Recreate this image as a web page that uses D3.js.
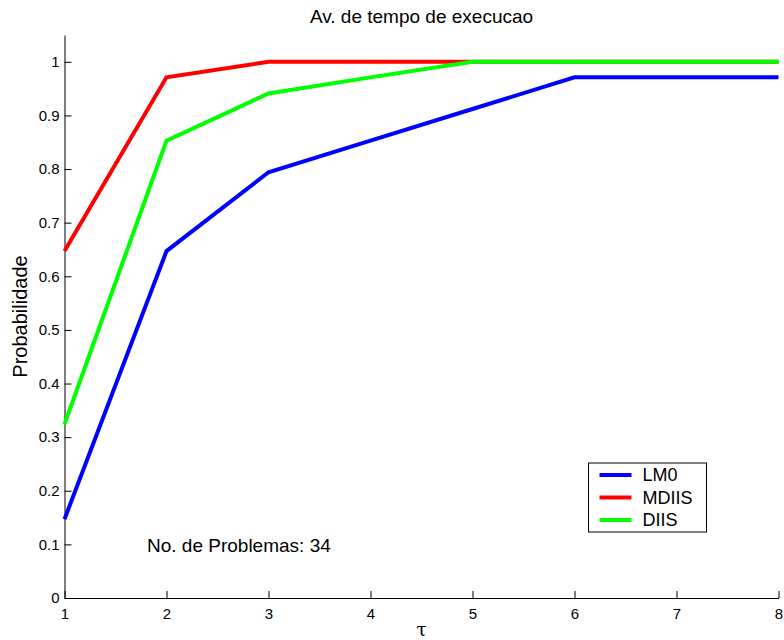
<!DOCTYPE html>
<html>
<head>
<meta charset="utf-8">
<script src="https://cdn.jsdelivr.net/npm/d3@7"></script>
<style>
  body { margin: 0; background: #fff; }
  text { font-family: "Liberation Sans", Arial, sans-serif; fill: #000; }
  .axis path, .axis line { stroke: #000; }
  .axis text { font-size: 15px; font-family: "Liberation Sans", Arial, sans-serif; }
</style>
</head>
<body>
<svg width="784" height="640"></svg>
<script>
var taus = [1, 2, 3, 4, 5, 6, 7, 8];
var lm0 = [0.147, 0.647, 0.794, 0.853, 0.912, 0.971, 0.971, 0.971];
var mdiis = [0.647, 0.971, 1, 1, 1, 1, 1, 1];
var diis = [0.324, 0.853, 0.941, 0.971, 1, 1, 1, 1];
var seriesNames = ["LM0", "MDIIS", "DIIS"];
var seriesColors = ["#0000ff", "#ff0000", "#00ff00"];
var yTicks = [0, 0.1, 0.2, 0.3, 0.4, 0.5, 0.6, 0.7, 0.8, 0.9, 1];

var margin = {top: 35, right: 5, bottom: 42, left: 64.5},
    width = 784 - margin.left - margin.right,
    height = 640 - margin.top - margin.bottom;

var svg = d3.select("svg")
  .append("g")
  .attr("transform", "translate(" + margin.left + "," + margin.top + ")");

var x = d3.scaleLinear().domain([1, 8]).range([0, 714]);
var y = d3.scaleLinear().domain([0, 1.05]).range([563, 0]);

//Axes with inward ticks, no box
svg.append("g")
  .attr("class", "axis")
  .attr("transform", "translate(0,563)")
  .call(d3.axisBottom(x).tickValues(taus).tickSize(-7).tickPadding(10).tickSizeOuter(0)
    .tickFormat(d3.format("d")));

svg.append("g")
  .attr("class", "axis")
  .call(d3.axisLeft(y).tickValues(yTicks).tickSize(-7).tickPadding(5).tickSizeOuter(0)
    .tickFormat(function(d) { return String(+d.toFixed(1)); }));

var allSeries = [lm0, mdiis, diis];

var line = d3.line()
  .x(function(d, i) { return x(taus[i]); })
  .y(function(d) { return y(d); });

allSeries.forEach(function(s, k) {
  svg.append("path")
    .datum(s)
    .attr("d", line)
    .attr("fill", "none")
    .attr("stroke", seriesColors[k])
    .attr("stroke-width", 4)
    .attr("stroke-linejoin", "miter");
});

//Title and labels
svg.append("text")
  .attr("x", 357)
  .attr("y", -12.5)
  .attr("text-anchor", "middle")
  .style("font-size", "19px")
  .text("Av. de tempo de execucao");

svg.append("text")
  .attr("transform", "translate(-37.5," + (563 / 2) + ") rotate(-90)")
  .attr("text-anchor", "middle")
  .style("font-size", "20px")
  .text("Probabilidade");

svg.append("text")
  .attr("x", 357)
  .attr("y", 601)
  .attr("text-anchor", "middle")
  .style("font-size", "19px")
  .style("font-family", "'DejaVu Serif', serif")
  .text("τ");

svg.append("text")
  .attr("x", 82.5)
  .attr("y", 517)
  .style("font-size", "19px")
  .text("No. de Problemas: 34");

//Legend
var legend = svg.append("g").attr("transform", "translate(524,428)");
legend.append("rect")
  .attr("width", 118)
  .attr("height", 69)
  .attr("fill", "#fff")
  .attr("stroke", "#000");

seriesNames.forEach(function(n, k) {
  legend.append("line")
    .attr("x1", 11).attr("x2", 43)
    .attr("y1", 12 + k * 22.5).attr("y2", 12 + k * 22.5)
    .attr("stroke", seriesColors[k])
    .attr("stroke-width", 4);
  legend.append("text")
    .attr("x", 54)
    .attr("y", 12 + k * 22.5)
    .attr("dy", "0.35em")
    .style("font-size", "18px")
    .text(n);
});
</script>
</body>
</html>
